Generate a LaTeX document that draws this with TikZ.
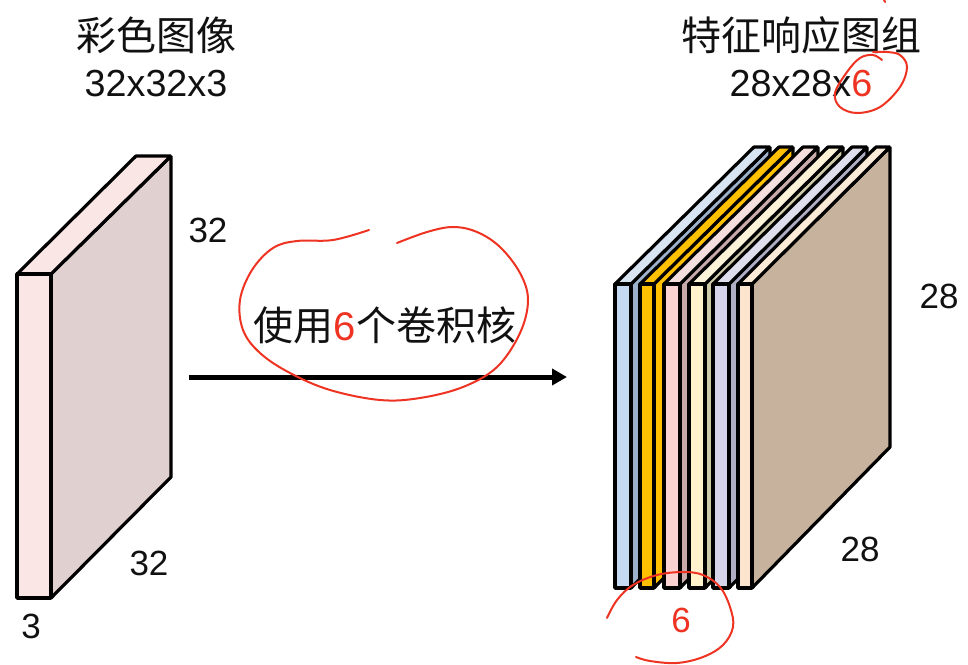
\documentclass[tikz,border=0pt]{standalone}
\usepackage{fontspec}
\setmainfont{Liberation Sans}
\newfontfamily\cjk{Noto Sans CJK SC}
\usetikzlibrary{arrows.meta}
\definecolor{penred}{HTML}{EE3322}
\definecolor{inkblack}{HTML}{111111}
\definecolor{blockfront}{HTML}{FBE6E6}
\definecolor{blockside}{HTML}{E0D0D0}
\definecolor{bluefront}{HTML}{C5D9F3}
\definecolor{blueside}{HTML}{9DB1CA}
\definecolor{bluetop}{HTML}{D9E4F3}
\definecolor{orangefront}{HTML}{FFC000}
\definecolor{pinkfront}{HTML}{FBD2D2}
\definecolor{pinkside}{HTML}{C9AAAA}
\definecolor{pinktop}{HTML}{F5DEDE}
\definecolor{creamfront}{HTML}{FFF2CC}
\definecolor{creamside}{HTML}{CFCBA9}
\definecolor{creamtop}{HTML}{FBF2D8}
\definecolor{lilacfront}{HTML}{D6D4EA}
\definecolor{lilacside}{HTML}{AFADC4}
\definecolor{lilactop}{HTML}{DFDEEC}
\definecolor{peachfront}{HTML}{FDE4CF}
\definecolor{peachside}{HTML}{C7B29D}
\definecolor{peachtop}{HTML}{FBEAD8}
\tikzset{
  slab/.style={draw=black, line width=3.2pt, line join=bevel},
  pen/.style={draw=penred, line width=2pt, line cap=round},
  title/.style={font=\fontsize{40}{40}\selectfont\cjk, text=inkblack, inner sep=0pt},
  sizetext/.style={font=\fontsize{37.7}{37.7}\selectfont, text=inkblack, inner sep=0pt},
  dimtext/.style={font=\fontsize{35}{35}\selectfont, text=inkblack, inner sep=0pt},
}
\begin{document}
\begin{tikzpicture}[x=1pt,y=-1pt]
\useasboundingbox[fill=white] (0,0) rectangle (968,664);

% left block
\draw[slab, fill=blockside] (51,274) -- (171,156) -- (171,477) -- (51,598) -- cycle;
\draw[slab, fill=blockfront] (17,274) -- (136,156) -- (171,156) -- (51,274) -- cycle;
\draw[slab, fill=blockfront] (17,274) rectangle (51,598);

% slabs, back to front
\draw[slab, fill=blueside] (631,284) -- (770,147) -- (770,447) -- (631,588) -- cycle;
\draw[slab, fill=bluetop] (615,284) -- (754,147) -- (770,147) -- (631,284) -- cycle;
\draw[slab, fill=bluefront] (615,284) rectangle (631,588);

\draw[slab, fill=orangefront] (654,284) -- (793,147) -- (793,447) -- (654,588) -- cycle;
\draw[slab, fill=orangefront] (640,284) -- (779,147) -- (793,147) -- (654,284) -- cycle;
\draw[slab, fill=orangefront] (640,284) rectangle (654,588);

\draw[slab, fill=pinkside] (680,284) -- (818,147) -- (818,447) -- (680,588) -- cycle;
\draw[slab, fill=pinktop] (664,284) -- (803,147) -- (818,147) -- (680,284) -- cycle;
\draw[slab, fill=pinkfront] (664,284) rectangle (680,588);

\draw[slab, fill=creamside] (705,284) -- (843,147) -- (843,447) -- (705,588) -- cycle;
\draw[slab, fill=creamtop] (689,284) -- (828,147) -- (843,147) -- (705,284) -- cycle;
\draw[slab, fill=creamfront] (689,284) rectangle (705,588);

\draw[slab, fill=lilacside] (729,284) -- (867,147) -- (867,447) -- (729,588) -- cycle;
\draw[slab, fill=lilactop] (713,284) -- (852,147) -- (867,147) -- (729,284) -- cycle;
\draw[slab, fill=lilacfront] (713,284) rectangle (729,588);

\draw[slab, fill=peachside] (752,284) -- (890,147) -- (890,447) -- (752,588) -- cycle;
\draw[slab, fill=peachtop] (738,284) -- (876,147) -- (890,147) -- (752,284) -- cycle;
\draw[slab, fill=peachfront] (738,284) rectangle (752,588);

% titles
\node[title] (lefttitle) at (156,35) {彩色图像};
\node[sizetext] (leftsize) at (156,84) {32x32x3};
\node[title] (righttitle) at (801,35) {特征响应图组};
\node[sizetext] (rightsize) at (801,84) {28x28x\textcolor{penred}{6}};

% dimensions
\node[dimtext] (leftheight) at (208,230) {32};
\node[dimtext] (leftwidth) at (149,563) {32};
\node[dimtext] (leftdepth) at (31,626) {3};
\node[dimtext] (rightheight) at (939,296) {28};
\node[dimtext] (rightwidth) at (860,549) {28};
\node[dimtext, text=penred] (rightdepth) at (681,620) {6};

% arrow
\coordinate (arrowstart) at (189,377);
\coordinate (arrowend) at (567,377);
\draw[line width=5pt, -{Triangle[length=15pt,width=16pt]}] (arrowstart) -- (arrowend);
\node[title] (kernels) at (385,325) {使用{\fontspec{Liberation Sans}\textcolor{penred}{6}}个卷积核};

% red pen marks
\draw[pen] plot[smooth, tension=.6] coordinates {(369,230) (333,240) (297,241) (273,248) (252,270) (240,300) (243,330) (260,353) (290,373) (330,390) (380,400) (420,398) (463,387) (497,367) (520,333) (528,300) (520,273) (500,247) (477,232) (453,227) (427,232) (397,243)};
\draw[pen] plot[smooth, tension=.6] coordinates {(882,60) (873,55) (860,58) (847,72) (835,93) (840,107) (857,113) (880,107) (900,87) (907,67) (900,55) (887,52) (873,52)};
\draw[pen] plot[smooth, tension=.6] coordinates {(607,618) (617,600) (633,585) (657,575) (683,572) (703,575) (720,587) (730,607) (733,627) (723,645) (703,657) (677,663) (650,661) (636,657)};
\draw[pen] (884,0) -- (885,2);
\end{tikzpicture}
\end{document}
